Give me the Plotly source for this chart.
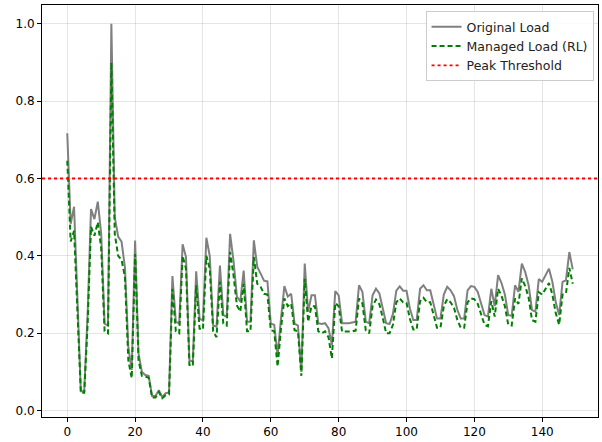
import plotly.graph_objects as go

original_load = [
    0.717, 0.483, 0.527, 0.29, 0.05, 0.05, 0.25, 0.521, 0.495, 0.54,
    0.457, 0.225, 0.22, 1.0, 0.5, 0.45, 0.437, 0.37, 0.165, 0.105,
    0.44, 0.148, 0.1, 0.092, 0.09, 0.038, 0.038, 0.053, 0.035, 0.045,
    0.047, 0.348, 0.23, 0.225, 0.43, 0.397, 0.13, 0.127, 0.36, 0.238,
    0.233, 0.447, 0.4, 0.22, 0.217, 0.375, 0.247, 0.243, 0.457, 0.388,
    0.295, 0.282, 0.362, 0.23, 0.23, 0.44, 0.372, 0.354, 0.336, 0.334,
    0.225, 0.222, 0.143, 0.238, 0.322, 0.295, 0.302, 0.225, 0.22, 0.1,
    0.38, 0.256, 0.298, 0.298, 0.226, 0.224, 0.226, 0.213, 0.17, 0.309,
    0.298, 0.226, 0.226, 0.226, 0.228, 0.23, 0.324, 0.307, 0.23, 0.226,
    0.298, 0.315, 0.303, 0.264, 0.226, 0.224, 0.25, 0.31, 0.321, 0.31,
    0.31, 0.264, 0.234, 0.234, 0.315, 0.324, 0.311, 0.311, 0.277, 0.238,
    0.238, 0.3, 0.32, 0.311, 0.296, 0.26, 0.238, 0.238, 0.311, 0.322,
    0.32, 0.307, 0.277, 0.247, 0.243, 0.315, 0.27, 0.35, 0.33, 0.3,
    0.247, 0.245, 0.324, 0.307, 0.38, 0.358, 0.324, 0.26, 0.256, 0.34,
    0.333, 0.35, 0.367, 0.333, 0.28, 0.247, 0.333, 0.337, 0.41, 0.365,
]

managed_load = [
    0.646, 0.437, 0.465, 0.26, 0.046, 0.046, 0.225, 0.475, 0.452, 0.487,
    0.42, 0.205, 0.2, 0.9, 0.457, 0.4, 0.39, 0.345, 0.13, 0.084,
    0.405, 0.13, 0.09, 0.088, 0.085, 0.034, 0.034, 0.048, 0.032, 0.04,
    0.042, 0.315, 0.205, 0.2, 0.4, 0.367, 0.118, 0.115, 0.324, 0.212,
    0.21, 0.4, 0.367, 0.205, 0.19, 0.333, 0.225, 0.22, 0.41, 0.35,
    0.272, 0.256, 0.328, 0.205, 0.205, 0.397, 0.328, 0.32, 0.302, 0.3,
    0.208, 0.205, 0.114, 0.212, 0.29, 0.27, 0.277, 0.208, 0.205, 0.09,
    0.341, 0.23, 0.27, 0.27, 0.205, 0.2, 0.205, 0.19, 0.135, 0.278,
    0.27, 0.204, 0.204, 0.204, 0.205, 0.207, 0.29, 0.277, 0.207, 0.2,
    0.27, 0.287, 0.275, 0.24, 0.2, 0.2, 0.222, 0.28, 0.29, 0.28,
    0.279, 0.237, 0.21, 0.21, 0.283, 0.292, 0.28, 0.28, 0.25, 0.214,
    0.214, 0.27, 0.288, 0.28, 0.266, 0.234, 0.214, 0.214, 0.28, 0.29,
    0.288, 0.276, 0.249, 0.222, 0.218, 0.283, 0.243, 0.315, 0.297, 0.27,
    0.222, 0.22, 0.29, 0.276, 0.342, 0.322, 0.292, 0.234, 0.23, 0.306,
    0.3, 0.315, 0.33, 0.3, 0.252, 0.222, 0.3, 0.303, 0.369, 0.328,
]

time_steps = list(range(len(original_load)))
peak_threshold = 0.6

x_ticks = [0, 20, 40, 60, 80, 100, 120, 140]
y_ticks = [0.0, 0.2, 0.4, 0.6, 0.8, 1.0]

fig = go.Figure()
fig.add_trace(go.Scatter(
    x=time_steps, y=original_load, mode="lines", name="Original Load",
    line=dict(color="#808080", width=2),
))
fig.add_trace(go.Scatter(
    x=time_steps, y=managed_load, mode="lines", name="Managed Load (RL)",
    line=dict(color="#008000", width=2, dash="5px,3px"),
))
fig.add_shape(
    type="line", xref="paper", x0=0, x1=1, yref="y",
    y0=peak_threshold, y1=peak_threshold,
    line=dict(color="#ff0000", width=1.8, dash="dot"),
    showlegend=True, name="Peak Threshold",
)

n = len(time_steps)
xpad = 0.05 * (n - 1)
ymin = min(min(original_load), min(managed_load))
ymax = max(max(original_load), max(managed_load))
ypad = 0.05 * (ymax - ymin)

axis_common = dict(
    showline=True, linecolor="black", linewidth=1, mirror=True,
    ticks="outside", ticklen=4, tickcolor="black", tickwidth=1,
    showgrid=True, gridcolor="rgba(0,0,0,0.1)", gridwidth=1,
    zeroline=False, tickfont=dict(family="DejaVu Sans", size=12, color="black"),
)

fig.update_layout(
    width=602, height=442,
    margin=dict(l=42, r=3, t=5, b=23),
    plot_bgcolor="white", paper_bgcolor="white",
    font=dict(family="DejaVu Sans", size=12, color="black"),
    xaxis=dict(range=[-xpad, n - 1 + xpad], tickvals=x_ticks, **axis_common),
    yaxis=dict(range=[ymin - ypad, ymax + ypad], tickvals=y_ticks,
               tickformat=".1f", **axis_common),
    legend=dict(
        x=0.992, y=0.985, xanchor="right", yanchor="top",
        bgcolor="rgba(255,255,255,0.85)", bordercolor="#cccccc", borderwidth=1,
        font=dict(family="DejaVu Sans", size=12.5, color="#222"),
        tracegroupgap=0, itemwidth=30,
    ),
)

fig.write_html("out.html")
